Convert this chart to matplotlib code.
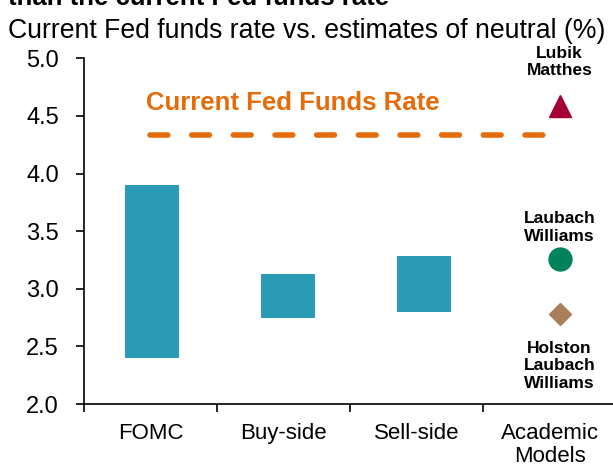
import numpy as np
import matplotlib
matplotlib.use('Agg')
from matplotlib import pyplot as plt

plt.rcParams['font.family'] = ['Liberation Sans', 'DejaVu Sans']

categories = ['FOMC', 'Buy-side', 'Sell-side', 'Academic\nModels']
range_low = [2.4, 2.75, 2.8]
range_high = [3.9, 3.13, 3.28]
fed_funds = 4.33
model_names = ['Lubik\nMatthes', 'Laubach\nWilliams', 'Holston\nLaubach\nWilliams']
model_values = [4.59, 3.26, 2.78]
label_y = [4.97, 3.53, 2.33]
yticks = [2.0, 2.5, 3.0, 3.5, 4.0, 4.5, 5.0]

teal = '#2B9AB3'
orange = '#E46C0A'
marker_styles = [('^', '#A50034', 16.5), ('o', '#00825A', 16.5), ('D', '#A97F5B', 11.7)]

fig = plt.figure(figsize=(6.13, 4.66), dpi=100)
ax = fig.add_axes([0.137, 0.133, 0.868, 0.742])

pos = np.arange(len(categories)) * 1.02 + 0.015

# ranges as floating bars
heights = np.array(range_high) - np.array(range_low)
ax.bar(pos[:3], heights, bottom=range_low, width=0.406, color=teal, linewidth=0)

# academic model point estimates
for val, ly, name, (m, c, s) in zip(model_values, label_y, model_names, marker_styles):
    ax.plot(pos[3], val, marker=m, color=c, markersize=s, linestyle='none')
    ax.text(pos[3], ly, name, ha='center', va='center', fontsize=12.5,
            fontweight='bold', linespacing=1.2)

# current fed funds rate
ax.plot([0, 3.03], [fed_funds, fed_funds], color=orange, linewidth=4,
        dashes=(3.2, 4.3), dash_capstyle='round')
ax.text(1.07, 4.61, 'Current Fed Funds Rate', color=orange, fontsize=18.5,
        fontweight='bold', ha='center', va='center')

ax.set_xlim(-0.5, 3.5)
ax.set_ylim(2.0, 5.0)
ax.set_yticks(yticks)
ax.set_yticklabels([f'{v:.1f}' for v in yticks])
ax.set_xticks(np.arange(len(categories)) - 0.5)
ax.set_xticklabels([])
ax.set_xticks(np.arange(len(categories)), minor=True)
ax.set_xticklabels(categories, minor=True)
for lbl in ax.get_xticklabels(minor=True):
    lbl.set_linespacing(1.08)
ax.tick_params(axis='x', which='minor', length=0, pad=14, labelsize=16)
ax.tick_params(axis='x', which='major', length=6, width=1.2, direction='out')
ax.tick_params(axis='y', length=6, width=1.2, labelsize=17, pad=12)
for side in ['top', 'right']:
    ax.spines[side].set_visible(False)
for side in ['left', 'bottom']:
    ax.spines[side].set_linewidth(1.2)
ax.spines['bottom'].set_clip_on(False)

fig.text(0.013, 1 - 5 / 466, 'than the current Fed funds rate', fontsize=18.5,
         fontweight='bold', ha='left', va='baseline')
fig.text(0.013, 1 - 38 / 466, 'Current Fed funds rate vs. estimates of neutral (%)',
         fontsize=19.2, ha='left', va='baseline')

fig.savefig('out.png', dpi=100)
